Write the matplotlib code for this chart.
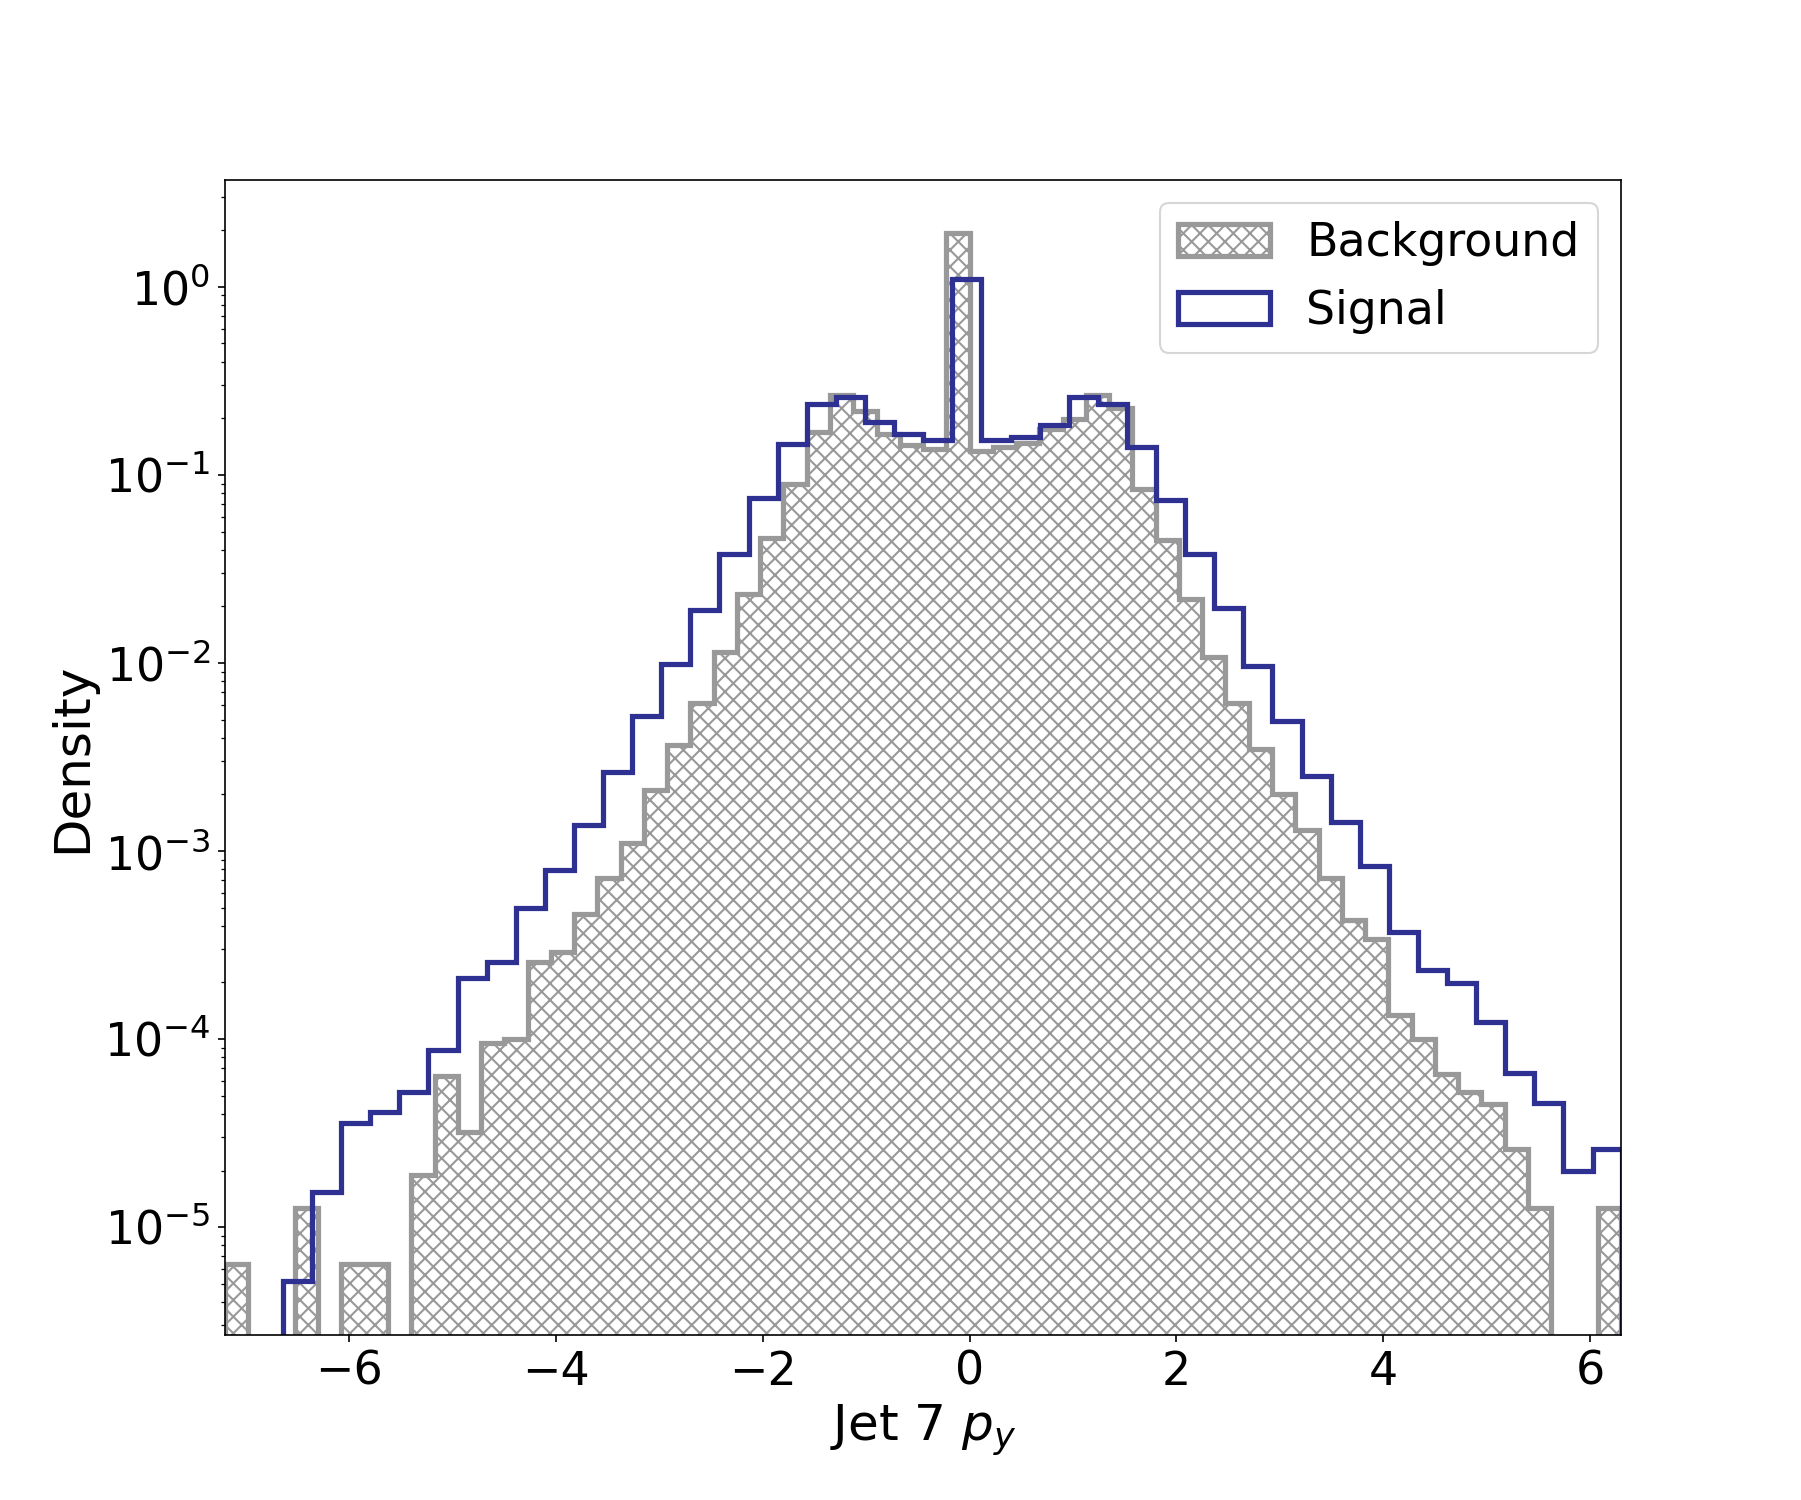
import numpy as np
import matplotlib
matplotlib.use("Agg")
import matplotlib.pyplot as plt

bg_edges = np.linspace(-7.2, 6.3, 61)
bg_vals = [6.4e-6, 0, 0, 1.26e-5, 0, 6.4e-6, 6.4e-6, 0, 1.9e-5, 6.4e-5,
           3.2e-5, 9.5e-5, 1.0e-4, 2.56e-4, 2.9e-4, 4.6e-4, 7.2e-4, 1.1e-3, 2.1e-3, 3.65e-3,
           6.1e-3, 1.14e-2, 2.34e-2, 4.6e-2, 8.9e-2, 0.17, 0.267, 0.22, 0.165, 0.144,
           0.138, 1.94, 0.134, 0.14, 0.148, 0.175, 0.198, 0.267, 0.228, 0.084,
           0.045, 0.022, 0.0107, 6.1e-3, 3.5e-3, 2.0e-3, 1.3e-3, 7.2e-4, 4.3e-4, 3.4e-4,
           1.34e-4, 1.0e-4, 6.5e-5, 5.2e-5, 4.5e-5, 2.6e-5, 1.26e-5, 0, 0, 1.26e-5]

sig_edges = np.linspace(-6.641, 6.307, 47)
sig_vals = [5.2e-6, 1.53e-5, 3.6e-5, 4.1e-5, 5.2e-5, 8.7e-5, 2.1e-4, 2.56e-4, 4.95e-4, 7.9e-4,
            1.38e-3, 2.64e-3, 5.2e-3, 9.9e-3, 1.92e-2, 3.8e-2, 7.5e-2, 0.146, 0.238, 0.26,
            0.19, 0.165, 0.154, 1.1, 0.154, 0.16, 0.185, 0.26, 0.238, 0.14,
            0.074, 0.038, 0.0195, 9.6e-3, 4.9e-3, 2.5e-3, 1.42e-3, 8.3e-4, 3.7e-4, 2.34e-4,
            1.99e-4, 1.24e-4, 6.6e-5, 4.6e-5, 2.0e-5, 2.6e-5]

fig, ax = plt.subplots(figsize=(12.007, 10), dpi=150)
ax.hist(bg_edges[:-1], bins=bg_edges, weights=bg_vals, histtype='stepfilled',
        facecolor='none', edgecolor='#999999', hatch='xxx', linewidth=2.5, label='Background')
ax.hist(sig_edges[:-1], bins=sig_edges, weights=sig_vals, histtype='step',
        color='#2e3192', linewidth=2.5, label='Signal')
ax.set_yscale('log')
ax.set_xlim(-7.2, 6.3)
ax.set_ylim(2.67e-6, 3.7)
ax.set_xlabel('Jet 7 $p_y$', fontsize=24)
ax.set_ylabel('Density', fontsize=24)
ax.tick_params(labelsize=22)
ax.legend(fontsize=22, loc='upper right')
fig.savefig('out.png')
